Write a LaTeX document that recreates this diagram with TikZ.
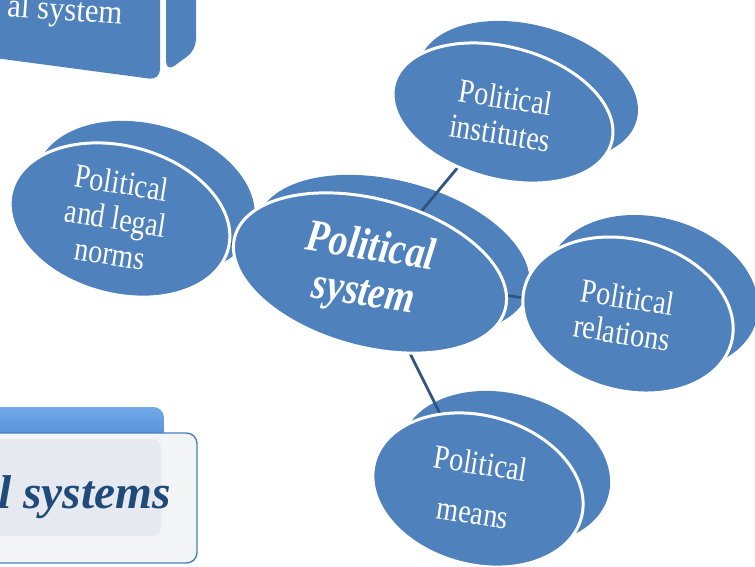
\documentclass[tikz,border=0pt]{standalone}
\usepackage{fontspec}
\setmainfont{Liberation Serif}
\usetikzlibrary{shapes.geometric,calc}
\definecolor{discblue}{RGB}{79,129,189}
\definecolor{linkblue}{RGB}{50,84,128}
\definecolor{tabtop}{RGB}{112,168,232}
\definecolor{tabbot}{RGB}{52,112,200}
\definecolor{panelgrey}{RGB}{243,244,246}
\definecolor{panelinner}{RGB}{230,234,240}
\definecolor{panelblue}{RGB}{74,126,187}
\definecolor{titleblue}{RGB}{31,74,122}
\pgfdeclarelayer{back}
\pgfdeclarelayer{links}
\pgfsetlayers{back,links,main}

\begin{document}
\begin{tikzpicture}[x=0.02cm,y=-0.02cm,
  disc/.style={ellipse,fill=discblue,draw=white,line width=1.7pt,rotate=-15,inner sep=0pt},
  discback/.style={ellipse,fill=discblue,rotate=-15,inner sep=0pt},
  disctext/.style={text=white,align=center,rotate=-9,yscale=1.2,transform shape,inner sep=1pt,
    font=\fontsize{16}{17}\selectfont},
  link/.style={draw=linkblue,line width=1.6pt}]
  \useasboundingbox (0,0) rectangle (755,566);
  \clip (0,0) rectangle (755,566);

  % top left block
  \fill[discblue] (-20,-20) -- (160,-20) [rounded corners=6pt] -- (160,80) -- (-20,56) [sharp corners] -- cycle;
  \fill[discblue] (166,-20) -- (196,-20) [rounded corners=6pt] -- (196,50) -- (166,72) [sharp corners] -- cycle;
  \node[anchor=base east,rotate=-4,yscale=1.1,transform shape,text=white,font=\fontsize{17.5}{20}\selectfont] (form) at (128,25) {al system};

  % bottom left panel
  \shade[top color=tabtop,bottom color=tabbot,rounded corners=6pt] (-20,407) rectangle (164,480);
  \filldraw[fill=panelgrey,draw=panelblue,line width=0.8pt,rounded corners=6pt] (-20,433) rectangle (197,563);
  \fill[panelinner,rounded corners=5pt] (-20,439) rectangle (161,536);
  \node[anchor=base east,text=titleblue,font=\bfseries\itshape\fontsize{27}{30}\selectfont] (kinds) at (177,508) {l systems};

  % discs
  \node[disc,minimum width=5.6cm,minimum height=2.96cm] (sys) at (370,273) {};
  \node[disc,minimum width=4.5cm,minimum height=2.64cm] (inst) at (503,113) {};
  \node[disc,minimum width=4.48cm,minimum height=2.96cm] (norms) at (120,220) {};
  \node[disc,minimum width=4.28cm,minimum height=3.02cm] (rel) at (628,315) {};
  \node[disc,minimum width=4.28cm,minimum height=2.98cm] (means) at (478,490) {};

  \node[disctext,font=\bfseries\itshape\fontsize{21.5}{21.8}\selectfont] (sys-t) at (367,272) {Political\\system};
  \node[disctext] (inst-t) at (503,115) {Political\\institutes};
  \node[disctext] (norms-t) at (116,218) {Political\\and legal\\norms};
  \node[disctext] (rel-t) at (625,315) {Political\\relations};
  \node[disctext,font=\fontsize{16}{23.7}\selectfont] (means-t) at (477,488) {Political\\means};

  \begin{pgfonlayer}{back}
    \node[discback,minimum width=5.6cm,minimum height=2.96cm] (sys-b) at ($(sys)+(23,-18)$) {};
    \node[discback,minimum width=4.5cm,minimum height=2.64cm] (inst-b) at ($(inst)+(25,-22)$) {};
    \node[discback,minimum width=4.48cm,minimum height=2.96cm] (norms-b) at ($(norms)+(25,-22)$) {};
    \node[discback,minimum width=4.28cm,minimum height=3.02cm] (rel-b) at ($(rel)+(25,-22)$) {};
    \node[discback,minimum width=4.28cm,minimum height=2.98cm] (means-b) at ($(means)+(27,-22)$) {};
  \end{pgfonlayer}

  \begin{pgfonlayer}{links}
    \draw[link] (sys.center) -- (inst.center);
    \draw[link] (sys.center) -- (norms.center);
    \draw[link] (sys.center) -- (rel.center);
    \draw[link] (sys.center) -- (means.center);
  \end{pgfonlayer}
\end{tikzpicture}
\end{document}
